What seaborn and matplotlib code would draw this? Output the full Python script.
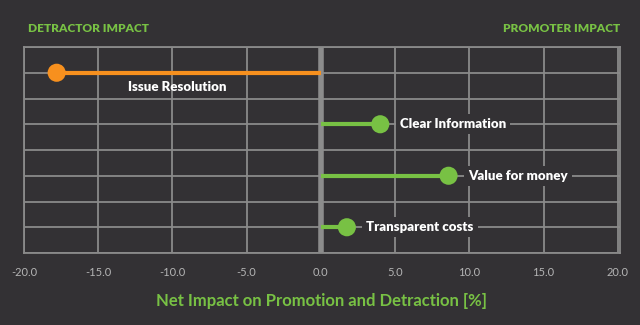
import matplotlib
matplotlib.use("Agg")
import matplotlib.pyplot as plt
import seaborn as sns
import pandas as pd
from matplotlib.ticker import FormatStrFormatter

categories = ["Issue Resolution", "Clear Information", "Value for money", "Transparent costs"]
impact = [-17.8, 4.0, 8.6, 1.75]
x_ticks = [-20, -15, -10, -5, 0, 5, 10, 15, 20]

BG = "#333134"
GRID = "#8a8a8a"
ORANGE = "#f7901e"
GREEN = "#78c144"
WHITE = "#ffffff"
TICK = "#b4b4b4"

df = pd.DataFrame({"category": categories, "impact": impact})
df["side"] = ["Detractor" if v < 0 else "Promoter" for v in df["impact"]]
palette = {"Detractor": ORANGE, "Promoter": GREEN}

sns.set_theme(style="dark")
plt.rcParams["font.family"] = ["Lato", "DejaVu Sans"]

fig = plt.figure(figsize=(6.4, 3.25), dpi=100, facecolor=BG)
ax = fig.add_axes([24 / 640, 1 - 253 / 325, (620 - 24) / 640, (253 - 47) / 325])
ax.set_facecolor(BG)

# stems
for _, r in df.iterrows():
    ax.hlines(r["category"], 0, r["impact"], color=palette[r["side"]], lw=3, zorder=3)

sns.scatterplot(data=df, x="impact", y="category", hue="side", palette=palette,
                s=170, edgecolor="none", legend=False, ax=ax, zorder=4)

ax.set_xlim(-20, 20.15)
ax.set_ylim(len(categories) - 0.5, -0.5)
ax.set_xticks(x_ticks)
ax.xaxis.set_major_formatter(FormatStrFormatter("%.1f"))
ax.set_yticks([i * 0.5 - 0.5 for i in range(2 * len(categories) + 1)])
ax.set_yticklabels([])
ax.tick_params(axis="y", length=0)
ax.tick_params(axis="x", length=0, pad=10, colors=TICK, labelsize=8)
ax.grid(True, color=GRID, lw=1.3, zorder=1)
ax.set_axisbelow(True)
for s in ax.spines.values():
    s.set_color(GRID)
    s.set_linewidth(1.3)
ax.axvline(0, color="#8c8c8c", lw=4, zorder=2)

ax.set_ylabel("")
ax.set_xlabel("Net Impact on Promotion and Detraction [%]", color=GREEN,
              fontsize=12, fontweight="bold", labelpad=11)

for _, r in df.iterrows():
    if r["impact"] < 0:
        ax.annotate(r["category"], (r["impact"] / 2 - 0.8, r["category"]),
                    xytext=(0, -10), textcoords="offset points",
                    ha="center", va="center", color=WHITE, fontsize=9.5,
                    fontweight="heavy", zorder=5)
    else:
        ax.annotate(r["category"], (r["impact"], r["category"]),
                    xytext=(14, 0), textcoords="offset points",
                    ha="left", va="center", color=WHITE, fontsize=9.5,
                    fontweight="heavy", zorder=5,
                    bbox=dict(boxstyle="square,pad=0.3", fc=BG, ec="none"))

fig.text(28 / 640, 1 - 29 / 325, "DETRACTOR IMPACT", color=GREEN, fontsize=8.6,
         fontweight="heavy", ha="left", va="center")
fig.text(620 / 640, 1 - 29 / 325, "PROMOTER IMPACT", color=GREEN, fontsize=8.6,
         fontweight="heavy", ha="right", va="center")

fig.savefig("out.png", dpi=100, facecolor=BG)
